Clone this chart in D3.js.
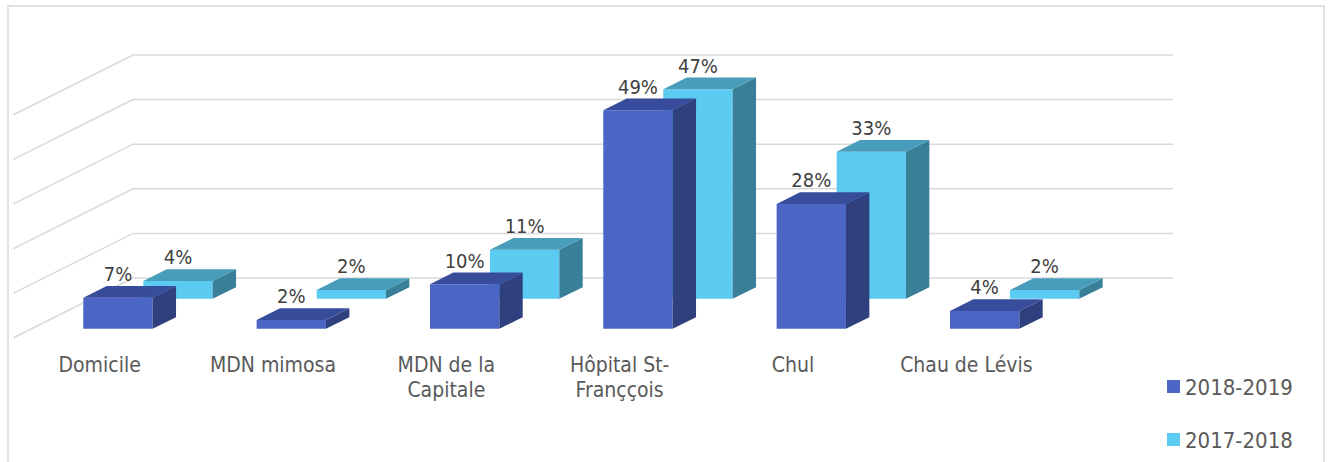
<!DOCTYPE html>
<html>
<head>
<meta charset="utf-8">
<script src="https://cdn.jsdelivr.net/npm/d3@7"></script>
<style>
  html, body { margin: 0; padding: 0; background: #fff; }
  svg { display: block; font-family: "DejaVu Sans Condensed", "DejaVu Sans", sans-serif; font-stretch: condensed; }
</style>
</head>
<body>
<svg id="chart" width="1328" height="462"></svg>
<script>
// chart data
const categories = ["Domicile", "MDN mimosa", "MDN de la|Capitale", "Hôpital St-|Franççois", "Chul", "Chau de Lévis"]
const series = ["2018-2019", "2017-2018"]   // front row first
const values2019 = [7, 2, 10, 49, 28, 4]
const values2018 = [4, 2, 11, 47, 33, 2]
const yTicks = [0, 10, 20, 30, 40, 50]

const seriesValues = { "2018-2019": values2019, "2017-2018": values2018 }
const colors = {
  "2018-2019": { front: "#4c66c6", top: "#374c9a", side: "#30407f" },
  "2017-2018": { front: "#5bcbf1", top: "#489dba", side: "#3a7f98" }
}

const svg = d3.select("#chart")

// outer frame
svg.append("rect")
  .attr("x", 8).attr("y", 6)
  .attr("width", 1316).attr("height", 480)
  .attr("fill", "none").attr("stroke", "#d9d9d9").attr("stroke-width", 1.5)

// oblique 3d: front plane base line, depth vector
const baseY = 338
const DX = 120, DY = 60

const x = d3.scaleBand().domain(categories).range([13, 1053]).padding(0)
const y = d3.scaleLinear().domain([0, 50]).range([0, 223])
const z = d3.scaleBand().domain(series).range([0, 1]).padding(0)

const barW = x.bandwidth() / 2.5          // gap width 150%
const depthFrac = 0.39
const P = (px, v, pz) => [px + pz * DX, baseY - y(v) - pz * DY]

// gridlines: back wall + left wall
const grid = svg.append("g").attr("stroke", "#d9d9d9").attr("stroke-width", 1.5).attr("fill", "none")
yTicks.forEach(t => {
  const a = P(x.range()[0], t, 0), b = P(x.range()[0], t, 1), c = P(x.range()[1], t, 1)
  grid.append("polyline").attr("points", [a, b, c].map(p => p.join(",")).join(" "))
})

const line = d3.line()
const bars = svg.append("g")
const labels = []

// draw back row first
series.slice().reverse().forEach(s => {
  const col = colors[s]
  const z0 = z(s) + z.bandwidth() * (1 - depthFrac) / 2
  const z1 = z0 + z.bandwidth() * depthFrac
  categories.forEach((cat, i) => {
    const v = seriesValues[s][i]
    const x0 = x(cat) + (x.bandwidth() - barW) / 2
    const x1 = x0 + barW
    const front = [P(x0, 0, z0), P(x1, 0, z0), P(x1, v, z0), P(x0, v, z0)]
    const side = [P(x1, 0, z0), P(x1, 0, z1), P(x1, v, z1), P(x1, v, z0)]
    const top = [P(x0, v, z0), P(x1, v, z0), P(x1, v, z1), P(x0, v, z1)]
    bars.append("path").attr("d", line(front) + "Z").attr("fill", col.front)
    bars.append("path").attr("d", line(side) + "Z").attr("fill", col.side)
    bars.append("path").attr("d", line(top) + "Z").attr("fill", col.top)
    labels.push({ x: P((x0 + x1) / 2, v, z0)[0], y: P(x0, v, z1)[1] - 5, text: v + "%" })
  })
})

svg.append("g")
  .attr("font-size", 20).attr("fill", "#404040").attr("text-anchor", "middle")
  .selectAll("text").data(labels).join("text")
  .attr("x", d => d.x).attr("y", d => d.y).text(d => d.text)

// category labels
const catG = svg.append("g").attr("font-size", 21).attr("fill", "#595959").attr("text-anchor", "middle")
categories.forEach(cat => {
  const t = catG.append("text").attr("x", x(cat) + x.bandwidth() / 2).attr("y", 372)
  cat.split("|").forEach((ln, j) => {
    t.append("tspan").attr("x", x(cat) + x.bandwidth() / 2).attr("dy", j ? 25 : 0).text(ln)
  })
})

// legend
const leg = svg.append("g").attr("font-size", 22).attr("fill", "#595959")
series.forEach((s, i) => {
  const ly = 380 + i * 53
  leg.append("rect").attr("x", 1167).attr("y", ly).attr("width", 13).attr("height", 13).attr("fill", colors[s].front)
  leg.append("text").attr("x", 1185).attr("y", ly + 15).text(s)
})
</script>
</body>
</html>
